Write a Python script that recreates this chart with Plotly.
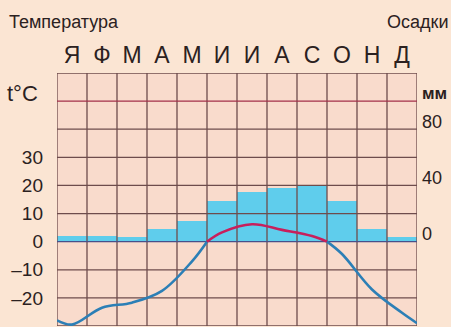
import plotly.graph_objects as go

# ---- data ----
months = ["Я", "Ф", "М", "А", "М", "И", "И", "А", "С", "О", "Н", "Д"]
temperature = [-29.5, -23.5, -21.7, -17.5, -7.0, 3.3, 6.2, 4.2, 2.0, -4.4, -17.0, -25.3]
temp_year_start = -28.0   # value at the left edge of the year (start of January)
temp_year_end = -29.0     # value at the right edge of the year (end of December)
precipitation = [4, 4, 3, 9, 15, 29, 35, 38, 40, 29, 9, 3]
temp_ticks = [-20, -10, 0, 10, 20, 30]
precip_ticks = [0, 40, 80]

# ---- geometry / style ----
W, H = 451, 327
ML, MR, MT, MB = 57, 34, 73, 1
PW, PH = W - ML - MR, H - MT - MB
T_RANGE = [-30, 60]
P_RANGE = [-60, 120]
FONT = "Liberation Sans, Arial, sans-serif"
TXT = "#2b2121"
GRID = "#6e4c4c"
BLUE = "#2c7fb6"
RED = "#c81f5c"
BAR = "#5fcdec"

def px(x):
    return (x - ML) / PW

def py(y):
    return (H - MB - y) / PH

fig = go.Figure()

# precipitation bars (base axis, right side)
fig.add_trace(go.Bar(
    x=list(range(len(months))), y=precipitation, width=1.0,
    marker=dict(color=BAR, line=dict(width=0)),
    xaxis="x", yaxis="y", hoverinfo="skip", showlegend=False,
))

# grid drawn as a trace on the overlay axis so it sits above the bars
gx, gy = [], []
for k in range(len(months) + 1):
    xv = k - 0.5
    gx += [xv, xv, None]
    gy += [T_RANGE[0], T_RANGE[1], None]
for v in range(T_RANGE[0], T_RANGE[1] + 1, 10):
    if v in (0, 50):
        continue
    gx += [-0.5, len(months) - 0.5, None]
    gy += [v, v, None]
fig.add_trace(go.Scatter(x=gx, y=gy, mode="lines", line=dict(color=GRID, width=1.3),
                         xaxis="x", yaxis="y2", hoverinfo="skip", showlegend=False))
fig.add_trace(go.Scatter(x=[-0.5, len(months) - 0.5], y=[50, 50], mode="lines",
                         line=dict(color="#a3304a", width=1.3),
                         xaxis="x", yaxis="y2", hoverinfo="skip", showlegend=False))
fig.add_trace(go.Scatter(x=[-0.5, len(months) - 0.5], y=[0, 0], mode="lines",
                         line=dict(color="#48508a", width=1.4),
                         xaxis="x", yaxis="y2", hoverinfo="skip", showlegend=False))

# temperature curve, split into negative (blue) and positive (red) parts
pts = [(-0.5, temp_year_start)]
for i, t in enumerate(temperature):
    if i > 0 and (temperature[i - 1] > 0) != (t > 0):
        pts.append((i - 0.5, 0.0))
    pts.append((i, t))
pts.append((len(months) - 0.5, temp_year_end))

segments = []
cur = [pts[0]]
cur_pos = pts[0][1] > 0
for p in pts[1:]:
    cur.append(p)
    if p[1] == 0.0:
        segments.append((cur_pos, cur))
        cur = [p]
        cur_pos = not cur_pos
segments.append((cur_pos, cur))

for pos, seg in segments:
    fig.add_trace(go.Scatter(
        x=[p[0] for p in seg], y=[p[1] for p in seg], mode="lines",
        line=dict(color=RED if pos else BLUE, width=2.6, shape="spline", smoothing=1.0),
        xaxis="x", yaxis="y2", hoverinfo="skip", showlegend=False,
    ))

fig.update_layout(
    width=W, height=H,
    margin=dict(l=ML, r=MR, t=MT, b=MB),
    paper_bgcolor="#fbe5d3",
    plot_bgcolor="#f9dbcc",
    font=dict(family=FONT, color=TXT),
    showlegend=False,
    bargap=0,
    xaxis=dict(
        range=[-0.5, len(months) - 0.5], side="top",
        tickmode="array", tickvals=list(range(len(months))), ticktext=months,
        tickfont=dict(size=23, color=TXT), ticks="", ticklabelstandoff=4,
        showgrid=False, zeroline=False, showline=False, fixedrange=True,
    ),
    yaxis=dict(
        range=P_RANGE, side="right",
        tickmode="array", tickvals=precip_ticks, ticktext=[str(v) for v in precip_ticks],
        tickfont=dict(size=18, color=TXT), ticklabelshift=-8,
        ticks="", ticklabelstandoff=4,
        showgrid=False, zeroline=False, showline=False, fixedrange=True,
    ),
    yaxis2=dict(
        range=T_RANGE, side="left", overlaying="y", anchor="x",
        tickmode="array", tickvals=temp_ticks,
        ticktext=[str(v).replace("-", "–") for v in temp_ticks],
        tickfont=dict(size=19, color=TXT), ticks="", ticklabelstandoff=13,
        showgrid=False, zeroline=False, showline=False, fixedrange=True,
    ),
    annotations=[
        dict(text="Температура", x=px(7), y=py(22), xref="paper", yref="paper",
             xanchor="left", yanchor="middle", showarrow=False, font=dict(size=18, color=TXT)),
        dict(text="Осадки", x=px(450), y=py(22), xref="paper", yref="paper",
             xanchor="right", yanchor="middle", showarrow=False, font=dict(size=18, color=TXT)),
        dict(text="t°C", x=px(5), y=py(93), xref="paper", yref="paper",
             xanchor="left", yanchor="middle", showarrow=False, font=dict(size=22, color=TXT)),
        dict(text="<b>мм</b>", x=px(420), y=py(93), xref="paper", yref="paper",
             xanchor="left", yanchor="middle", showarrow=False, font=dict(size=17, color=TXT)),
    ],
)

fig.write_html("out.html", config={"displayModeBar": False},
               post_script="document.body.style.margin='0';")
